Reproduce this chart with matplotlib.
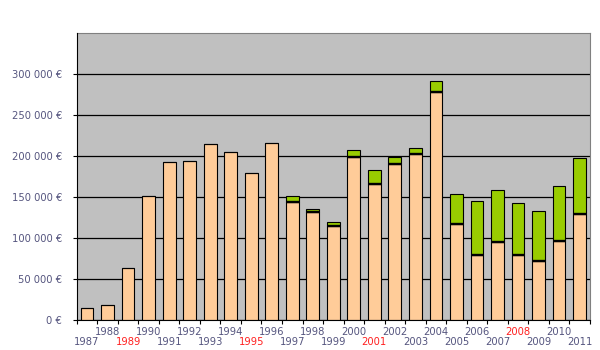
import numpy as np
import matplotlib
matplotlib.use("Agg")
import matplotlib.pyplot as plt
from matplotlib.ticker import FuncFormatter

# yearly amounts (euros): base part and added part on top
years = list(range(1987, 2012))
base = [15000, 18000, 63000, 151000, 192500, 193800, 214500, 204700, 179100, 215700,
        144500, 132300, 114400, 199400, 166100, 190500, 202700, 278400, 117200, 79400,
        95600, 79400, 72400, 96800, 129800]
extra = [0, 0, 0, 0, 0, 0, 0, 0, 0, 0,
         6500, 2800, 4900, 7800, 16700, 8500, 6900, 13000, 36200, 65500,
         62700, 63100, 60300, 66400, 67600]
red_years = [1989, 1995, 2001, 2008]

label_col = "#55557f"
bw = 0.62

fig = plt.figure(figsize=(6, 3.5), dpi=100)
ax = fig.add_axes([0.128, 0.0857, 0.855, 0.819])
ax.set_facecolor("#c0c0c0")

x = np.arange(len(years))
ax.bar(x, base, width=bw, color="#ffcc99", edgecolor="black", linewidth=0.8, zorder=3)
ax.bar(x, extra, width=bw, bottom=base, color="#99cc00", edgecolor="black",
       linewidth=0.8, zorder=3)
# heavier line where the two parts meet
stk = [i for i in x if extra[i] > 0]
ax.hlines([base[i] for i in stk], [i - bw / 2 for i in stk], [i + bw / 2 for i in stk],
          color="black", linewidth=1.7, zorder=4)

ax.set_xlim(-0.5, len(years) - 0.5)
ax.set_ylim(0, 350000)
ax.set_yticks([0, 50000, 100000, 150000, 200000, 250000, 300000])
ax.yaxis.set_major_formatter(FuncFormatter(lambda v, p: f"{int(v):,} €".replace(",", " ")))
ax.grid(axis="y", color="black", linewidth=0.9, zorder=1)
ax.tick_params(axis="y", direction="out", length=3, width=0.8, pad=7.5,
               labelsize=7.2, labelcolor=label_col)

# category ticks between the bars, labels staggered on two rows
ax.set_xticks([])
ax.set_xticks(np.arange(-0.5, len(years)), minor=True)
ax.tick_params(axis="x", which="minor", direction="out", length=3, width=0.8)
for i, yr in enumerate(years):
    off = -8.4 if i % 2 == 1 else -15.6
    col = "#ff2020" if yr in red_years else label_col
    ax.annotate(str(yr), xy=(i, 0), xycoords=ax.get_xaxis_transform(),
                xytext=(0, off), textcoords="offset points",
                ha="center", va="center", fontsize=7.2, color=col)

for s in ["top", "right"]:
    ax.spines[s].set_color("#808080")
for s in ["left", "bottom"]:
    ax.spines[s].set_color("black")
    ax.spines[s].set_zorder(5)

fig.savefig("out.png", dpi=100)
